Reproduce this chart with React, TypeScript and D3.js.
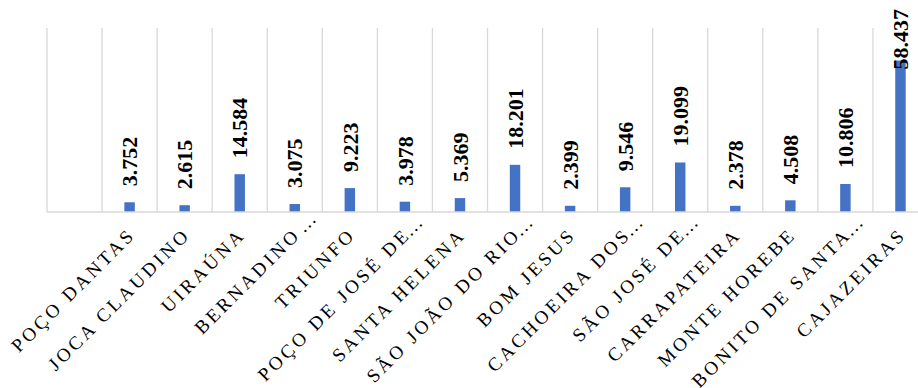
import { useRef, useEffect } from "react";
import * as d3 from "d3";

const CATEGORIES = [
  "",
  "POÇO DANTAS",
  "JOCA CLAUDINO",
  "UIRAÚNA",
  "BERNADINO …",
  "TRIUNFO",
  "POÇO DE JOSÉ DE…",
  "SANTA HELENA",
  "SÃO JOÃO DO RIO…",
  "BOM JESUS",
  "CACHOEIRA DOS…",
  "SÃO JOSÉ DE…",
  "CARRAPATEIRA",
  "MONTE HOREBE",
  "BONITO DE SANTA…",
  "CAJAZEIRAS",
];

const POPULATION = [
  null, 3752, 2615, 14584, 3075, 9223, 3978, 5369, 18201, 2399, 9546, 19099, 2378, 4508, 10806, 58437,
];

const WIDTH = 918;
const HEIGHT = 388;
const PLOT = { left: 47, right: 928, top: 28, bottom: 212 };
const BAR_COLOR = "#4472C4";
const GRID_COLOR = "#d9d9d9";

const ptBR = d3.formatLocale({ decimal: ",", thousands: ".", grouping: [3], currency: ["R$", ""] });
const fmt = ptBR.format(",d");

export default function App() {
  const svgRef = useRef<SVGSVGElement>(null);

  useEffect(() => {
    if (!svgRef.current) return;
    const svg = d3.select(svgRef.current);
    svg.selectAll("*").remove();

    const x = d3.scaleBand<string>()
      .domain(CATEGORIES.map((_, i) => String(i)))
      .range([PLOT.left, PLOT.right])
      .padding(0);
    const y = d3.scaleLinear().domain([0, 71000]).range([PLOT.bottom, PLOT.top]);

    const bw = x.bandwidth();
    const barW = bw * 0.19;

    // vertical category gridlines
    const edges = d3.range(CATEGORIES.length + 1).map((i) => PLOT.left + i * bw);
    svg.append("g")
      .selectAll("line")
      .data(edges)
      .join("line")
      .attr("x1", (d) => d)
      .attr("x2", (d) => d)
      .attr("y1", PLOT.top)
      .attr("y2", PLOT.bottom)
      .attr("stroke", GRID_COLOR)
      .attr("stroke-width", 1.3);

    // bars
    const data = POPULATION.map((v, i) => ({ i, v }));
    svg.append("g")
      .selectAll("rect")
      .data(data.filter((d) => d.v != null))
      .join("rect")
      .attr("x", (d) => x(String(d.i))! + bw / 2 - barW / 2)
      .attr("y", (d) => y(d.v as number))
      .attr("width", barW)
      .attr("height", (d) => PLOT.bottom - y(d.v as number))
      .attr("fill", BAR_COLOR);

    // baseline
    svg.append("line")
      .attr("x1", PLOT.left)
      .attr("x2", PLOT.right)
      .attr("y1", PLOT.bottom)
      .attr("y2", PLOT.bottom)
      .attr("stroke", GRID_COLOR)
      .attr("stroke-width", 1.5);

    // value labels (rotated)
    const labels = svg.append("g")
      .attr("font-family", "'Liberation Serif', 'Times New Roman', serif")
      .attr("font-weight", "bold")
      .attr("font-size", 22)
      .attr("fill", "#000");

    data.filter((d) => d.v != null).forEach((d) => {
      const cx = x(String(d.i))! + bw / 2;
      const t = labels.append("text")
        .attr("text-anchor", "start")
        .attr("dy", "0.35em")
        .text(fmt(d.v as number));
      const len = (t.node() as SVGTextElement).getComputedTextLength();
      const start = Math.max(y(d.v as number) - 16, 9 + len);
      t.attr("transform", `translate(${cx},${start}) rotate(-90)`);
    });

    // category labels (rotated -45)
    const cats = svg.append("g")
      .attr("font-family", "'Liberation Serif', 'Times New Roman', serif")
      .attr("font-size", 19)
      .attr("letter-spacing", 3.2)
      .attr("fill", "#000");

    CATEGORIES.forEach((c, i) => {
      if (!c) return;
      const cx = x(String(i))! + bw / 2;
      const main = c.replace(/\s*…$/, "");
      const g = cats.append("g").attr("transform", `translate(${cx - 2},${227}) rotate(-45)`);
      g.append("text").attr("text-anchor", "end").attr("dy", "0.66em").text(main);
      if (c.endsWith("…")) {
        g.append("text")
          .attr("text-anchor", "start")
          .attr("dx", c.endsWith(" …") ? 3 : -2)
          .attr("dy", "0.66em")
          .text("…");
      }
    });
  }, []);

  return (
    <svg
      ref={svgRef}
      width={WIDTH}
      height={HEIGHT}
      style={{ position: "absolute", left: 0, top: 0, background: "#fff", overflow: "hidden" }}
    />
  );
}
